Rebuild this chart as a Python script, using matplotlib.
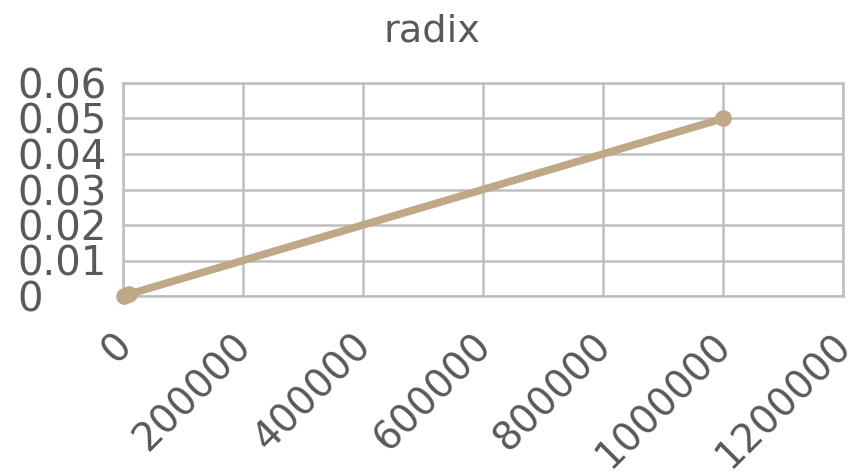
import matplotlib.pyplot as plt
from matplotlib.transforms import ScaledTranslation

plt.rcParams['font.family'] = ['DejaVu Sans']

# measured runs: input size vs. time in seconds
sizes = [1000, 10000, 1000000]
times = [0.00005, 0.0005, 0.05]

x_ticks = [0, 200000, 400000, 600000, 800000, 1000000, 1200000]
y_ticks = [0, 0.01, 0.02, 0.03, 0.04, 0.05, 0.06]
y_labels = ['0', '0.01', '0.02', '0.03', '0.04', '0.05', '0.06']

text_color = '#595959'
grid_color = '#BFBFBF'
line_color = '#BFA888'

fig = plt.figure(figsize=(8.53, 4.75), dpi=100)
ax = fig.add_axes([123 / 853, 1 - 296 / 475, 720 / 853, 213 / 475])

ax.plot(sizes, times, color=line_color, linewidth=5.5, marker='o',
        markersize=11, solid_capstyle='round', zorder=3, clip_on=False)

ax.set_xlim(0, 1200000)
ax.set_ylim(0, 0.06)
ax.set_xticks(x_ticks)
ax.set_xticklabels([str(v) for v in x_ticks], rotation=45, ha='right',
                   va='top', rotation_mode='anchor')
ax.set_yticks(y_ticks)
ax.set_yticklabels(y_labels, ha='left')
ax.tick_params(axis='both', length=0, labelcolor=text_color)
ax.tick_params(axis='x', labelsize=28, pad=16)
ax.tick_params(axis='y', labelsize=29, pad=76)

# nudge the slanted labels so their ends sit just right of each tick
shift = ScaledTranslation(-11 / 100, -8 / 100, fig.dpi_scale_trans)
for lbl in ax.get_xticklabels():
    lbl.set_transform(lbl.get_transform() + shift)

ax.grid(True, color=grid_color, linewidth=1.8)
ax.set_axisbelow(True)
for side in ax.spines.values():
    side.set_color(grid_color)
    side.set_linewidth(1.8)

fig.text(432 / 853, 1 - 32 / 475, 'radix', ha='center', va='center',
         fontsize=27.5, color=text_color)

fig.savefig('out.png', dpi=100)
